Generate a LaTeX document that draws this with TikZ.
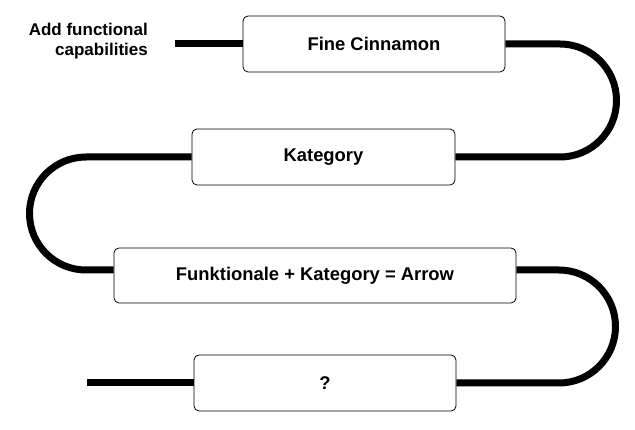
\documentclass[tikz,border=0pt]{standalone}
\usepackage{fontspec}
\setmainfont{Liberation Sans}
\usetikzlibrary{backgrounds}
\begin{document}
\begin{tikzpicture}[x=1pt,y=1pt,
  stagebox/.style={draw=black, line width=0.8pt, fill=white, rounded corners=5pt,
    inner sep=0pt, font=\fontsize{18.4}{22}\selectfont\bfseries},
  conn/.style={line width=7pt, line cap=butt, black},
  lbl/.style={align=right, inner sep=0pt, font=\fontsize{17}{19.5}\selectfont\bfseries}]
\useasboundingbox (0,0) rectangle (635,-430);
\coordinate (s) at (175,-44);
\coordinate (r1) at (560,-44);
\coordinate (l1) at (86,-157);
\coordinate (l1b) at (86,-270);
\coordinate (r2) at (559,-270);
\coordinate (e) at (87,-383);
% boxes
\node[stagebox, minimum width=262pt, minimum height=56pt] (b1) at (374,-44) {Fine Cinnamon};
\node[stagebox, minimum width=263pt, minimum height=56pt] (b2) at (323.5,-157) {Kategory};
\node[stagebox, minimum width=402pt, minimum height=55pt] (b3) at (315,-275.5) {Funktionale + Kategory = Arrow};
\node[stagebox, minimum width=262pt, minimum height=56pt] (b4) at (325,-383) {?};
\node[lbl, anchor=east] (t) at (148,-41) {Add functional\\capabilities};
% connectors behind the boxes
\begin{scope}[on background layer]
\draw[conn] (s) -- (b1.west);
\draw[conn] (b1.east) -- (r1) arc[start angle=90, end angle=-90, radius=56.5] -- (b2.east);
\draw[conn] (b2.west) -- (l1) arc[start angle=90, end angle=270, radius=56.5] -- (b3.west |- l1b);
\draw[conn] (b3.east |- r2) -- (r2) arc[start angle=90, end angle=-90, radius=56.5] -- (b4.east);
\draw[conn] (e) -- (b4.west);
\end{scope}
\end{tikzpicture}
\end{document}
